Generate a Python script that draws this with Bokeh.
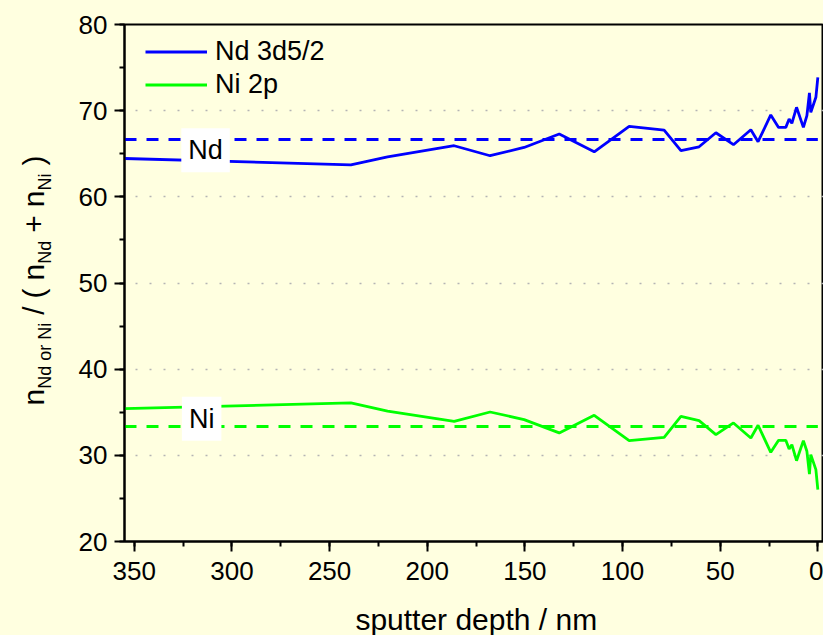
import math
from bokeh.plotting import figure
from bokeh.layouts import row, column
from bokeh.models import Range1d, SingleIntervalTicker, Label, Legend, LegendItem
from bokeh.core.properties import value
from bokeh.embed import file_html
from bokeh.resources import INLINE

# ---------------- data ----------------
depth = [355, 239.1, 220.3, 186.2, 167.8, 150.4, 132.4, 114.5, 96.6, 78.7, 70.1,
         60.8, 52.2, 43.2, 34.3, 30.6, 24.1, 20.1, 16.4, 14.7, 13.3, 10.9, 7.4,
         5.6, 4.3, 3.6, 1.0, 0.0]
nd_3d52 = [64.45, 63.72, 64.65, 65.93, 64.77, 65.73, 67.29, 65.23, 68.18, 67.75, 65.35,
           65.81, 67.44, 66.05, 67.79, 66.40, 69.50, 68.06, 68.06, 69.03, 68.53, 70.39, 68.06,
           69.42, 72.06, 69.80, 71.55, 73.87]
ni_2p = [35.43, 36.08, 35.12, 33.95, 35.03, 34.15, 32.60, 34.65, 31.70, 32.09, 34.53,
         34.03, 32.40, 33.76, 32.01, 33.49, 30.35, 31.74, 31.74, 30.74, 31.24, 29.38, 31.71,
         30.47, 27.83, 30.08, 28.34, 26.01]
nominal = [200 / 3, 100 / 3]          # nominal composition: Nd 66.7 %, Ni 33.3 %
series_names = ["Nd 3d5/2", "Ni 2p"]
element_names = ["Nd", "Ni"]
element_label_x = [313.5, 315.5]
element_label_y = [65.4, 34.25]
x_title = "sputter depth / nm"
# y title: (text, is_subscript, gap after piece in px)
y_title_parts = [("n", False, 0), ("Nd or Ni", True, 8), ("/", False, 8), ("(", False, 8),
                 ("n", False, 0), ("Nd", True, 8), ("+", False, 8), ("n", False, 0),
                 ("Ni", True, 8), (")", False, 0)]

BG = "#FFFFE0"
FONT = "Liberation Sans"
BLUE = "#0000FF"
GREEN = "#00FF00"
LEFT_W = 60
BOTTOM_H = 36
W_TOTAL, H_TOTAL = 823, 635
MAIN_W = W_TOTAL - LEFT_W
MAIN_H = H_TOTAL - BOTTOM_H

p = figure(width=MAIN_W, height=MAIN_H, output_backend="svg", toolbar_location=None,
           x_range=Range1d(355, -2.9), y_range=Range1d(20, 80),
           min_border_left=124 - LEFT_W, min_border_right=0, min_border_top=24,
           min_border_bottom=MAIN_H - 541,
           background_fill_color=BG, border_fill_color=BG)

p.outline_line_color = "black"
p.outline_line_width = 2

# axes
p.xaxis.ticker = SingleIntervalTicker(interval=50, num_minor_ticks=2)
p.yaxis.ticker = SingleIntervalTicker(interval=10, num_minor_ticks=2)
for ax in (p.xaxis[0], p.yaxis[0]):
    ax.axis_line_width = 2
    ax.axis_line_color = "black"
    ax.major_tick_line_width = 2
    ax.minor_tick_line_width = 2
    ax.major_tick_in = 0
    ax.minor_tick_in = 0
    ax.major_tick_out = 10
    ax.minor_tick_out = 5
    ax.major_label_text_font = FONT
    ax.major_label_text_font_size = "26px"
    ax.major_label_text_color = "black"
p.xaxis.major_label_standoff = 10
p.yaxis.major_label_standoff = 7

# grid
p.xgrid.visible = False
p.ygrid.ticker = SingleIntervalTicker(interval=10)
p.ygrid.grid_line_color = "#b4b4b4"
p.ygrid.grid_line_dash = "2 12"
p.ygrid.grid_line_width = 1.5

# nominal composition lines
p.line([depth[0], depth[-1]], [nominal[0]] * 2, line_color=BLUE, line_width=3, line_dash="12 10")
p.line([depth[0], depth[-1]], [nominal[1]] * 2, line_color=GREEN, line_width=3, line_dash="12 10")

# data
r_nd = p.line(depth, nd_3d52, line_color=BLUE, line_width=2.8)
r_ni = p.line(depth, ni_2p, line_color=GREEN, line_width=2.8)

# element labels
for name, lx, ly in zip(element_names, element_label_x, element_label_y):
    p.add_layout(Label(x=lx, y=ly, text=name, text_align="center", text_baseline="middle",
                       text_font=FONT, text_font_size="27px", text_color="black",
                       background_fill_color="white", padding=7))

legend = Legend(items=[LegendItem(label=series_names[0], renderers=[r_nd]),
                       LegendItem(label=series_names[1], renderers=[r_ni])],
                location=(21, 440), margin=0, padding=0, spacing=0,
                glyph_width=62, glyph_height=33, label_height=33, label_standoff=8,
                label_text_font=FONT, label_text_font_size="27px", label_text_color="black",
                background_fill_alpha=0, border_line_alpha=0)
p.add_layout(legend)

# ---------------- left strip with the rotated y-axis title ----------------
left = figure(width=LEFT_W, height=H_TOTAL, output_backend="svg", toolbar_location=None,
              title=None, x_range=Range1d(0, LEFT_W), y_range=Range1d(0, H_TOTAL),
              x_axis_location=None, y_axis_location=None,
              min_border=0, background_fill_color=BG, border_fill_color=BG)
left.grid.visible = False
left.outline_line_color = None

CW = {'n': 0.556, 'N': 0.722, 'd': 0.556, 'o': 0.556, 'r': 0.333, 'i': 0.222,
      ' ': 0.278, '/': 0.278, '(': 0.333, ')': 0.333, '+': 0.584}
MAIN, SUB = 30, 18
base_x, sub_x = 33, 44
cy = 405  # screen y of the bottom of the title
main_pos = {"x": [], "y": [], "t": []}
sub_pos = {"x": [], "y": [], "t": []}
for txt, is_sub, gap in y_title_parts:
    size = SUB if is_sub else MAIN
    d = sub_pos if is_sub else main_pos
    d["x"].append(sub_x if is_sub else base_x)
    d["y"].append(H_TOTAL - cy)
    d["t"].append(txt)
    cy -= sum(CW[c] for c in txt) * size + gap

left.text(x=main_pos["x"], y=main_pos["y"], text=main_pos["t"], angle=math.pi / 2,
          text_align="left", text_baseline="alphabetic", text_font=value(FONT),
          text_font_size=value(f"{MAIN}px"), text_color="black")
left.text(x=sub_pos["x"], y=sub_pos["y"], text=sub_pos["t"], angle=math.pi / 2,
          text_align="left", text_baseline="alphabetic", text_font=value(FONT),
          text_font_size=value(f"{SUB}px"), text_color="black")

# ---------------- bottom strip with the x-axis title ----------------
bottom = figure(width=MAIN_W, height=BOTTOM_H, output_backend="svg", toolbar_location=None,
                title=None, x_range=Range1d(0, MAIN_W), y_range=Range1d(0, BOTTOM_H),
                x_axis_location=None, y_axis_location=None,
                min_border=0, background_fill_color=BG, border_fill_color=BG)
bottom.grid.visible = False
bottom.outline_line_color = None
bottom.text(x=[384], y=[16], text=[x_title],
            text_align="center", text_baseline="alphabetic", text_font=value(FONT),
            text_font_size=value("30px"), text_color="black")

layout = row(left, column(p, bottom, spacing=0), spacing=0)
html = file_html(layout, INLINE)
html = html.replace("</head>", "<style>html, body { background: %s; margin: 0; }</style></head>" % BG, 1)
open("out.html", "w").write(html)
